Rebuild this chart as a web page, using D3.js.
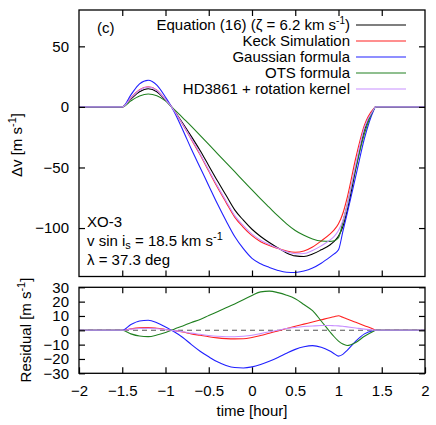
<!DOCTYPE html>
<html><head><meta charset="utf-8">
<script src="https://cdn.jsdelivr.net/npm/d3@7"></script>
<style>
body{margin:0;background:#fff}
svg{display:block}
text{font-family:"Liberation Sans",Arial,Helvetica,sans-serif;font-size:15px;fill:#000}
</style>
</head><body><svg id="c" width="436" height="425"></svg>
<script>
// ---- data ----
const times = [-2, -1.5, -1.4, -1.3, -1.2, -1.1, -1.0, -0.93, -0.9, -0.8, -0.7, -0.6, -0.5, -0.4, -0.3, -0.2, -0.1, 0.0, 0.1, 0.2, 0.3, 0.4, 0.5, 0.6, 0.7, 0.8, 0.9, 0.95, 1.0, 1.05, 1.1, 1.2, 1.3, 1.4, 1.43, 2];

const eq16   = [0, 0, 6.5, 12.5, 15, 12.5, 5.5, 0, -3, -13.5, -24.5, -36, -48.5, -61, -73, -85, -93.5, -101, -107, -112, -116.5, -120.5, -123, -123.5, -121.5, -118, -114, -111, -106.5, -99, -86, -51, -19, -3, 0, 0];
const keck   = [0, 0, 7.5, 14.2, 16.6, 13.9, 6.1, 0, -3.2, -14.7, -27, -39.5, -53, -66.3, -78.8, -91, -99.4, -106.3, -111.3, -114.5, -116.8, -119, -120, -119, -115.7, -110.7, -105, -101.5, -96.5, -88, -75, -42, -15, -2, 0, 0];
const gauss  = [0, 0, 10, 19, 22, 18, 8, 0, -4, -19, -35, -50, -65, -80, -94, -107, -117, -125, -129.5, -132.5, -135, -136.5, -136.7, -135.5, -133, -129, -124, -121.3, -118, -103, -88, -57, -26, -4, 0, 0];
const ots    = [0, 0, 5, 9, 10.7, 9.3, 5, 0, -2, -9, -16, -23.5, -31, -38.5, -46, -53.5, -61, -68.5, -76, -83, -90, -96.5, -102, -106, -109, -110.7, -111, -110.5, -108, -95, -81, -50, -22, -3, 0, 0];
const hd3861 = [0, 0, 7.3, 13.8, 16.4, 13.6, 6, 0, -3.2, -14.5, -26.5, -38.8, -52.1, -65.2, -77.6, -89.7, -98, -105, -110, -113.5, -116.7, -119.6, -121.2, -121, -118.5, -114.7, -110, -106.8, -102, -94, -81, -47, -17, -2.8, 0, 0];

const resGauss = [0, 0, 4, 6.5, 7, 5.3, 2.3, 0, -1, -5, -10, -14.6, -18.5, -22, -24.5, -26, -26.3, -25.5, -23.8, -21.6, -19, -16, -13.3, -11.5, -10.7, -11.8, -14.5, -16.3, -18, -16.8, -14, -7.5, -2.5, -0.3, 0, 0];
const resKeck  = [0, 0, 1, 1.7, 1.9, 1.4, 0.6, 0, -0.2, -1.2, -2.5, -3.5, -4.5, -5.3, -5.8, -6.0, -5.9, -5.0, -3.6, -2.0, -0.4, 1.2, 2.8, 4.3, 5.8, 7.3, 8.8, 9.5, 10.2, 9.1, 7.9, 5.6, 3.2, 0.9, 0, 0];
const resOTS   = [0, 0, -2.5, -4, -4.4, -3.3, -1.5, 0, 0.8, 3, 5.5, 7.5, 10.3, 13, 15.7, 18.4, 21.3, 24.3, 26.8, 27.3, 26.3, 24.5, 22, 18, 13.7, 6.5, -1, -4.5, -7.5, -9.6, -10.6, -8.5, -4.2, -0.8, 0, 0];
const resHD    = [0, 0, 0.8, 1.3, 1.4, 1.1, 0.5, 0, -0.2, -1.0, -2, -2.8, -3.6, -4.2, -4.5, -4.5, -4.2, -3.5, -2.3, -1.0, 0, 1.2, 2.0, 2.6, 3.0, 3.3, 3.3, 3.2, 3.1, 2.8, 2.4, 1.6, 0.8, 0.2, 0, 0];

const legendLabels = ["Equation (16) (ζ = 6.2 km s", "Keck Simulation", "Gaussian formula", "OTS formula", "HD3861 + rotation kernel"];
const xTicks = [-2, -1.5, -1, -0.5, 0, 0.5, 1, 1.5, 2];
const yTopTicks = [50, 0, -50, -100];
const yResTicks = [30, 20, 10, 0, -10, -20, -30];

// ---- layout ----
const colors = ["#000000", "#ff2020", "#2020ff", "#208020", "#c890ff"];
const svg = d3.select("#c");
const L = 79, R = 425;
const x = d3.scaleLinear().domain([-2, 2]).range([L, R]);
const yTop = d3.scaleLinear().domain([-140, 80]).range([276.5, 10]);
const yRes = d3.scaleLinear().domain([-30, 30]).range([373.3, 287.3]);

function frame(y) {
  const [b, t] = y.range();
  svg.append("rect").attr("x", L).attr("y", t).attr("width", R - L).attr("height", b - t)
    .attr("fill", "none").attr("stroke", "#000").attr("stroke-width", 1.3);
}
function axes(y, yTicks, xLabels) {
  const [b, t] = y.range();
  const inner = xTicks.filter(d => d > -2 && d < 2);
  const gb = svg.append("g").attr("transform", `translate(0,${b})`)
    .call(d3.axisBottom(x).tickValues(xLabels ? xTicks : inner).tickSize(-6).tickPadding(12).tickFormat(xLabels ? d3.format("") : ""));
  gb.select(".domain").remove();
  const gt = svg.append("g").attr("transform", `translate(0,${t})`)
    .call(d3.axisTop(x).tickValues(inner).tickSize(-6).tickFormat(""));
  gt.select(".domain").remove();
  const gl = svg.append("g").attr("transform", `translate(${L},0)`)
    .call(d3.axisLeft(y).tickValues(yTicks).tickSize(-6).tickPadding(10).tickFormat(d3.format("")));
  gl.select(".domain").remove();
  const gr = svg.append("g").attr("transform", `translate(${R},0)`)
    .call(d3.axisRight(y).tickValues(yTicks).tickSize(-6).tickFormat(""));
  gr.select(".domain").remove();
  svg.selectAll(".tick line").attr("stroke", "#000").attr("stroke-width", 1.2);
  svg.selectAll(".tick text").attr("font-size", 15).attr("font-family", "Liberation Sans, Arial, sans-serif").attr("fill", "#000");
}

// top panel
const topSeries = [eq16, keck, gauss, ots, hd3861];
const lineTop = d3.line().x((d, i) => x(times[i])).y(d => yTop(d)).curve(d3.curveMonotoneX);
topSeries.forEach((s, k) => {
  svg.append("path").datum(s).attr("d", lineTop).attr("fill", "none")
    .attr("stroke", colors[k]).attr("stroke-width", 1.1);
});
axes(yTop, yTopTicks, false);
frame(yTop);

// bottom panel
svg.append("line").attr("x1", x(-2)).attr("x2", x(2)).attr("y1", yRes(0)).attr("y2", yRes(0))
  .attr("stroke", "#555").attr("stroke-width", 1.1).attr("stroke-dasharray", "5,4");
const resSeries = [[resKeck, 1], [resGauss, 2], [resOTS, 3], [resHD, 4]];
const lineRes = d3.line().x((d, i) => x(times[i])).y(d => yRes(d)).curve(d3.curveMonotoneX);
resSeries.forEach(([s, k]) => {
  svg.append("path").datum(s).attr("d", lineRes).attr("fill", "none")
    .attr("stroke", colors[k]).attr("stroke-width", 1.1);
});
axes(yRes, yResTicks, true);
frame(yRes);

// legend
legendLabels.forEach((lab, i) => {
  const yy = 25 + 16 * i;
  const t = svg.append("text").attr("x", 350).attr("y", yy + 5).attr("text-anchor", "end");
  if (i === 0) {
    t.append("tspan").text(lab);
    t.append("tspan").attr("dy", -6).attr("font-size", 10).text("-1");
    t.append("tspan").attr("dy", 6).text(")");
  } else t.text(lab);
  svg.append("line").attr("x1", 356).attr("x2", 406).attr("y1", yy).attr("y2", yy)
    .attr("stroke", colors[i]).attr("stroke-width", 1.1);
});

// annotations
svg.append("text").attr("x", 97).attr("y", 33).text("(c)");
svg.append("text").attr("x", 87).attr("y", 227).text("XO-3");
const vs = svg.append("text").attr("x", 87).attr("y", 246);
vs.append("tspan").text("v sin i");
vs.append("tspan").attr("dy", 3).attr("font-size", 11).text("s");
vs.append("tspan").attr("dy", -3).text(" = 18.5 km s");
vs.append("tspan").attr("dy", -6).attr("font-size", 11).text("-1");
svg.append("text").attr("x", 87).attr("y", 265).text("λ = 37.3 deg");

// axis titles
const yl = svg.append("text").attr("transform", "translate(22,145) rotate(-90)").attr("text-anchor", "middle");
yl.append("tspan").text("Δv [m s");
yl.append("tspan").attr("dy", -6).attr("font-size", 11).text("-1");
yl.append("tspan").attr("dy", 6).text("]");
const rl = svg.append("text").attr("transform", "translate(31,330) rotate(-90)").attr("text-anchor", "middle");
rl.append("tspan").text("Residual [m s");
rl.append("tspan").attr("dy", -6).attr("font-size", 11).text("-1");
rl.append("tspan").attr("dy", 6).text("]");
svg.append("text").attr("x", 252).attr("y", 416).attr("text-anchor", "middle").text("time [hour]");
</script>
</body></html>
